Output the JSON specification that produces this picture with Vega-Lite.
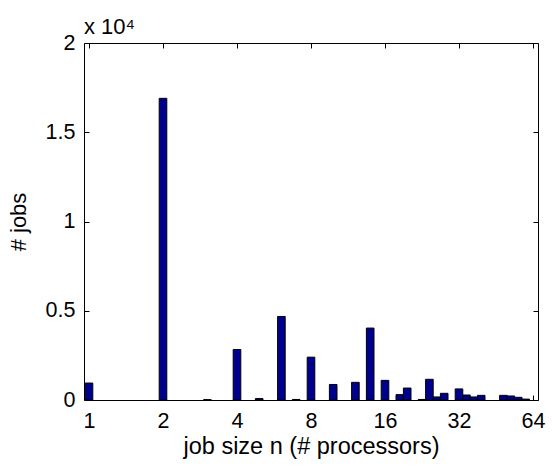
{
  "$schema": "https://vega.github.io/schema/vega-lite/v6.json",
  "width": 454,
  "height": 357,
  "autosize": "none",
  "padding": {"left": 84, "top": 43, "right": 14, "bottom": 67},
  "background": "white",
  "config": {
    "view": {"stroke": "black", "strokeWidth": 1},
    "font": "Liberation Sans",
    "axis": {"grid": false, "domain": false, "tickColor": "black", "labelColor": "black", "titleColor": "black", "labelFontSize": 21.5, "titleFontSize": 22, "titleFontWeight": "normal", "labelFont": "Liberation Sans", "titleFont": "Liberation Sans"}
  },
  "title": {"text": "x 10⁴", "anchor": "start", "frame": "group", "fontSize": 22, "fontWeight": "normal", "font": "Liberation Sans", "color": "black", "baseline": "alphabetic", "offset": -24},
  "data": {
    "values": [
      {"log2_size": 0.0, "jobs": 950},
      {"log2_size": 1.0, "jobs": 16900},
      {"log2_size": 1.6, "jobs": 20},
      {"log2_size": 2.0, "jobs": 2830},
      {"log2_size": 2.3, "jobs": 80},
      {"log2_size": 2.6, "jobs": 4680},
      {"log2_size": 2.8, "jobs": 30},
      {"log2_size": 3.0, "jobs": 2400},
      {"log2_size": 3.3, "jobs": 870},
      {"log2_size": 3.6, "jobs": 990},
      {"log2_size": 3.8, "jobs": 4030},
      {"log2_size": 4.0, "jobs": 1100},
      {"log2_size": 4.2, "jobs": 300},
      {"log2_size": 4.3, "jobs": 670},
      {"log2_size": 4.5, "jobs": 30},
      {"log2_size": 4.6, "jobs": 1160},
      {"log2_size": 4.7, "jobs": 170},
      {"log2_size": 4.8, "jobs": 375},
      {"log2_size": 5.0, "jobs": 620},
      {"log2_size": 5.1, "jobs": 280},
      {"log2_size": 5.2, "jobs": 170},
      {"log2_size": 5.3, "jobs": 260},
      {"log2_size": 5.6, "jobs": 260},
      {"log2_size": 5.7, "jobs": 225},
      {"log2_size": 5.8, "jobs": 150},
      {"log2_size": 5.9, "jobs": 50}
    ]
  },
  "layer": [
    {
      "mark": {"type": "bar", "width": 7.6, "color": "#00008F", "stroke": "black", "strokeWidth": 1, "clip": true},
      "encoding": {
        "x": {
          "field": "log2_size", "type": "quantitative",
          "scale": {"domain": [0, 6], "nice": false, "zero": false},
          "axis": {"values": [0, 1, 2, 3, 4, 5, 6], "labelExpr": "format(pow(2, datum.value), 'd')", "tickSize": -5, "labelPadding": 15, "title": "job size n (# processors)", "titleFontSize": 23.5, "titlePadding": 3, "labelFlush": false}
        },
        "y": {
          "field": "jobs", "type": "quantitative",
          "scale": {"domain": [0, 20000], "nice": false},
          "axis": {"values": [0, 5000, 10000, 15000, 20000], "labelExpr": "format(datum.value / 10000, '')", "tickSize": -5, "labelPadding": 14, "title": "# jobs", "titlePadding": 15}
        }
      }
    },
    {
      "mark": {"type": "bar", "width": 7.6, "opacity": 0},
      "encoding": {
        "x": {
          "field": "log2_size", "type": "quantitative",
          "scale": {"domain": [0, 6], "nice": false, "zero": false},
          "axis": {"orient": "top", "values": [0, 1, 2, 3, 4, 5, 6], "labels": false, "tickSize": -5, "title": null}
        },
        "y": {
          "field": "jobs", "type": "quantitative",
          "scale": {"domain": [0, 20000], "nice": false},
          "axis": {"orient": "right", "values": [0, 5000, 10000, 15000, 20000], "labels": false, "tickSize": -5, "title": null}
        }
      }
    }
  ],
  "resolve": {"axis": {"x": "independent", "y": "independent"}}
}
